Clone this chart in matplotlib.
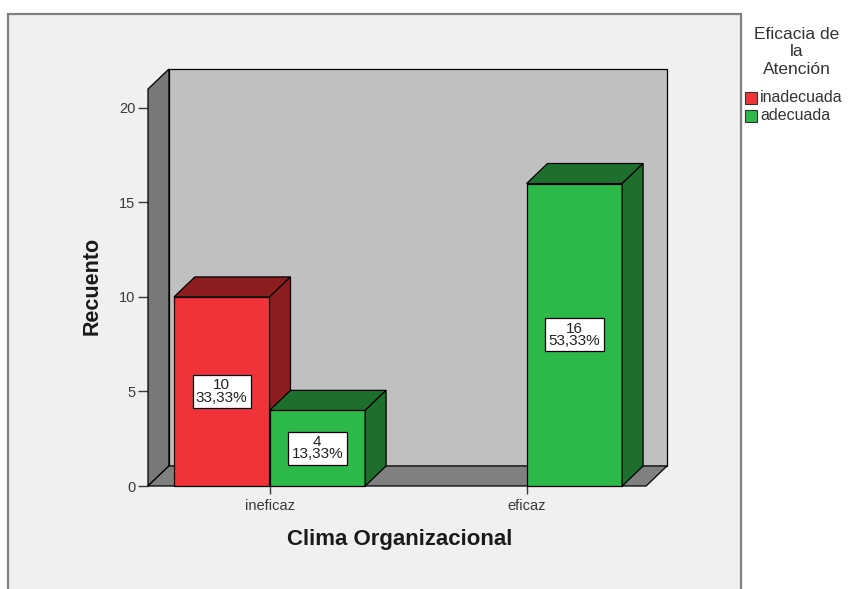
import matplotlib
matplotlib.use('Agg')
from matplotlib import pyplot as plt
from matplotlib.patches import Polygon, Rectangle

plt.rcParams['font.family'] = ['Liberation Sans', 'DejaVu Sans']

categories = ['ineficaz', 'eficaz']
series_names = ['inadecuada', 'adecuada']
inadecuada = [10, 0]
adecuada = [4, 16]
yticks = [0, 5, 10, 15, 20]

front_colors = ['#f03339', '#2db84a']
shade_colors = ['#8e1d20', '#1e6e2e']

W, H = 854, 589
fig = plt.figure(figsize=(W / 100, H / 100), dpi=100)
fig.patch.set_facecolor('white')

# outer chart frame
fig.patches.append(Rectangle((8 / W, -0.02), (741 - 8) / W, (589 - 14) / H + 0.02,
                             transform=fig.transFigure, fc='#f0f0f0', ec='#808080',
                             lw=1.6, zorder=-5))

ax = fig.add_axes([148 / W, (H - 486) / H, 519 / W, 417 / H])
ax.set_facecolor('none')
ax.set_zorder(2)

x0, x1 = -0.473, 1.465
dx, dy = 0.0814, 1.06
ytop = 21.0
ax.set_xlim(x0, x1 + dx)
ax.set_ylim(0, ytop + dy)

def poly(pts, fc, z):
    ax.add_patch(Polygon(pts, closed=True, fc=fc, ec='black', lw=0.9,
                         zorder=z, clip_on=False, joinstyle='miter'))

# back wall, left wall and floor
poly([(x0 + dx, dy), (x1 + dx, dy), (x1 + dx, ytop + dy), (x0 + dx, ytop + dy)], '#c0c0c0', 1)
poly([(x0, 0), (x0 + dx, dy), (x0 + dx, ytop + dy), (x0, ytop)], '#787878', 2)
poly([(x0, 0), (x1, 0), (x1 + dx, dy), (x0 + dx, dy)], '#808080', 2)

w = 0.372
total = sum(inadecuada) + sum(adecuada)
z = 3
for i in range(len(categories)):
    for k, vals in enumerate([inadecuada, adecuada]):
        h = vals[i]
        if h == 0:
            continue
        x = i - w + k * w
        poly([(x, 0), (x + w, 0), (x + w, h), (x, h)], front_colors[k], z)
        poly([(x, h), (x + dx, h + dy), (x + w + dx, h + dy), (x + w, h)], shade_colors[k], z)
        poly([(x + w, 0), (x + w + dx, dy), (x + w + dx, h + dy), (x + w, h)], shade_colors[k], z)
        pct = ('%.2f%%' % (100.0 * h / total)).replace('.', ',')
        ax.text(x + w / 2, h / 2, '%d\n%s' % (h, pct), ha='center', va='center',
                fontsize=11, linespacing=0.85, color='#222222', zorder=z + 1,
                bbox=dict(boxstyle='square,pad=0.22', fc='white', ec='black', lw=0.9))
        z += 1

for s in ax.spines.values():
    s.set_visible(False)
ax.set_yticks(yticks)
ax.set_yticklabels([str(t) for t in yticks])
ax.set_xticks(range(len(categories)))
ax.set_xticklabels(categories)
ax.tick_params(axis='y', direction='out', length=7, width=1, colors='#3a3a3a',
               labelsize=10.5, pad=2)
ax.tick_params(axis='x', direction='out', length=6, width=1, colors='#3a3a3a',
               labelsize=10.5, pad=3)

fig.text(92 / W, 1 - 286 / H, 'Recuento', rotation=90, ha='center', va='center',
         fontsize=15.5, fontweight='bold', color='#1a1a1a')
fig.text(400 / W, 1 - 540 / H, 'Clima Organizacional', ha='center', va='center',
         fontsize=16, fontweight='bold', color='#1a1a1a')

# legend
fig.text(797 / W, 1 - 52 / H, 'Eficacia de\nla\nAtención', ha='center', va='center',
         fontsize=12.5, color='#333333', linespacing=1.2)
for k, name in enumerate(series_names):
    yy = 92 + k * 18
    fig.patches.append(Rectangle((745 / W, 1 - (yy + 12) / H), 12 / W, 12 / H,
                                 transform=fig.transFigure, fc=front_colors[k],
                                 ec='#333333', lw=0.8))
    fig.text(760 / W, 1 - (yy + 6) / H, name, ha='left', va='center',
             fontsize=11.5, color='#333333')

fig.savefig('out.png', dpi=100)
